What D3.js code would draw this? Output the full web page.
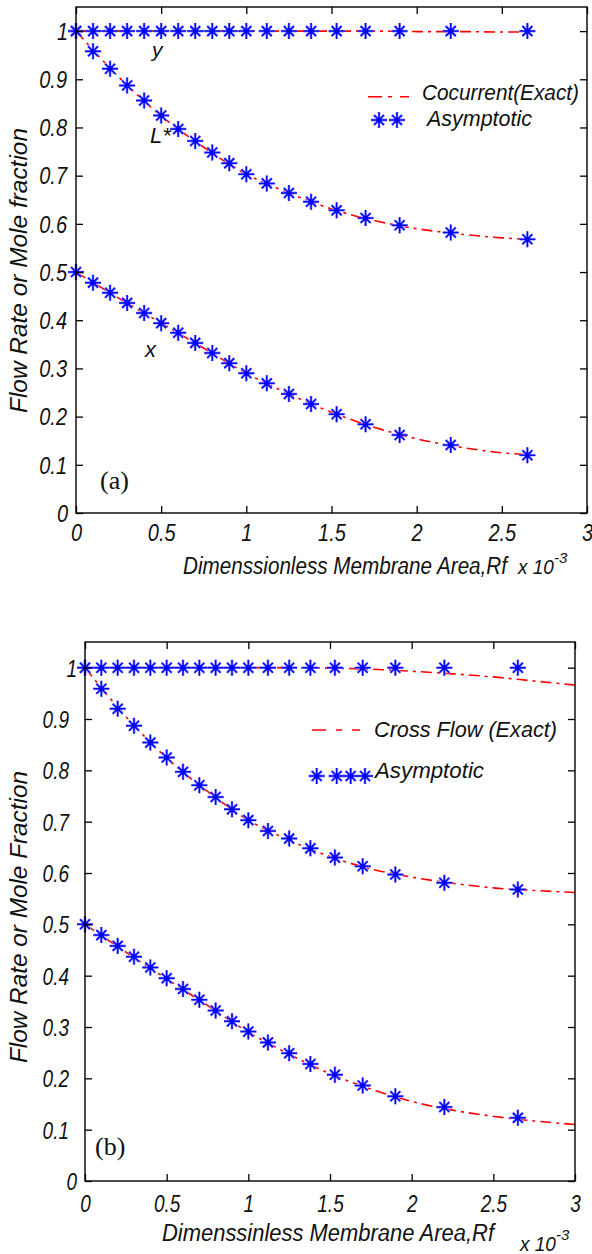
<!DOCTYPE html>
<html><head><meta charset="utf-8">
<script src="https://cdn.jsdelivr.net/npm/d3@7"></script>
<style>
html,body{margin:0;padding:0;background:#fff;}
svg{display:block;}
.mt{font-family:"Liberation Sans",Arial,sans-serif;font-style:italic;fill:#111;}
.stretch{transform-box:fill-box;transform-origin:center;}
</style></head><body>
<svg id="c" width="592" height="1254"></svg>
<script>
// ---- data ----
const rfPoints = [0,0.1,0.2,0.3,0.4,0.5,0.6,0.7,0.8,0.9,1.0,1.12,1.25,1.38,1.53,1.70,1.90,2.20,2.65];
// panel (a) asymptotic
const yAsymA = [1,1,1,1,1,1,1,1,1,1,1,1,1,1,1,1,1,1,1];
const LAsymA = [1.0,0.958,0.922,0.887,0.856,0.825,0.797,0.772,0.748,0.726,0.703,0.684,0.664,0.646,0.628,0.612,0.597,0.582,0.568];
const xAsymA = [0.5,0.478,0.457,0.436,0.415,0.394,0.374,0.353,0.332,0.311,0.29,0.269,0.247,0.226,0.205,0.184,0.162,0.141,0.12];
// panel (a) exact (cocurrent)
const rfExactA = [0,0.25,0.5,0.75,1.0,1.25,1.5,1.75,2.0,2.25,2.5,2.65];
const yExactA = [1,1,1,1,1,1,1,1,0.999,0.999,0.998,0.998];
const LExactA = [1.0,0.905,0.824,0.759,0.703,0.664,0.631,0.607,0.590,0.579,0.571,0.568];
const xExactA = [0.5,0.446,0.394,0.342,0.29,0.247,0.209,0.178,0.154,0.137,0.125,0.121];
// panel (b) asymptotic
const yAsymB = [1,1,1,1,1,1,1,1,1,1,1,1,1,1,1,1,1,1,1];
const LAsymB = [1.0,0.959,0.920,0.887,0.854,0.825,0.797,0.771,0.748,0.724,0.703,0.682,0.667,0.648,0.630,0.613,0.597,0.581,0.568];
const xAsymB = [0.5,0.479,0.458,0.437,0.416,0.395,0.374,0.353,0.332,0.311,0.291,0.27,0.249,0.228,0.207,0.186,0.165,0.144,0.123];
// panel (b) exact (cross flow)
const rfExactB = [0,0.25,0.5,0.75,1.0,1.25,1.5,1.75,2.0,2.25,2.5,2.75,3.0];
const yExactB = [1,1,1,1,1,1,0.999,0.997,0.993,0.988,0.982,0.974,0.966];
const LExactB = [1.0,0.905,0.824,0.759,0.703,0.664,0.632,0.608,0.592,0.580,0.571,0.566,0.562];
const xExactB = [0.5,0.446,0.394,0.342,0.29,0.247,0.209,0.179,0.155,0.138,0.126,0.117,0.110];
// ticks
const xTicks = [0,0.5,1,1.5,2,2.5,3];
const xTickLabels = ["0","0.5","1","1.5","2","2.5","3"];
const yTicks = [0,0.1,0.2,0.3,0.4,0.5,0.6,0.7,0.8,0.9,1];
const yTickLabels = ["0","0.1","0.2","0.3","0.4","0.5","0.6","0.7","0.8","0.9","1"];

const svg = d3.select("#c");
const BLUE = "#0000ff", RED = "#ff0000";
const starPath = "M-8,0H8M0,-8V8M-5,-5L5,5M-5,5L5,-5";

function star(g, x, y) {
  const s = g.append("g").attr("transform", `translate(${x},${y})`);
  s.append("path").attr("d", starPath).attr("stroke", "#a8a8ff").attr("stroke-width", 2.8).attr("fill", "none");
  s.append("path").attr("d", starPath).attr("stroke", BLUE).attr("stroke-width", 1.5).attr("fill", "none");
  s.append("circle").attr("r", 2.6).attr("fill", BLUE);
}

function mtext(g, x, y, str, size, opts = {}) {
  let parent = g, tx = x, ty = y;
  if (opts.rotate) {
    parent = g.append("g").attr("transform", `translate(${x},${y}) rotate(-90)`);
    tx = 0; ty = 0;
  }
  const t = parent.append("text").attr("class", opts.sy ? "mt stretch" : "mt").attr("x", tx).attr("y", ty)
    .attr("font-size", size).text(str);
  if (opts.anchor) t.attr("text-anchor", opts.anchor);
  if (opts.len) t.attr("textLength", opts.len).attr("lengthAdjust", "spacingAndGlyphs");
  if (opts.sy) t.style("transform", `scaleY(${opts.sy})`);
  if (opts.serif) t.style("font-family", '"Liberation Serif","Times New Roman",serif').style("font-style", "normal");
  return t;
}

function panel(cfg) {
  const x = d3.scaleLinear().domain([0, 3]).range([cfg.left, cfg.right]);
  const y = d3.scaleLinear().domain([0, 1.05]).range([cfg.bottom, cfg.top]);
  const g = svg.append("g");

  // exact curves
  const line = d3.line().x(d => x(d[0])).y(d => y(d[1])).curve(d3.curveMonotoneX);
  cfg.exact.forEach(arr => {
    g.append("path").datum(cfg.rfExact.map((r, i) => [r, arr[i]]))
      .attr("d", line).attr("fill", "none").attr("stroke", RED)
      .attr("stroke-width", 1.6).attr("stroke-dasharray", "11,5,3,5");
  });
  // asymptotic markers
  cfg.asym.forEach(arr => {
    rfPoints.forEach((r, i) => star(g, x(r), y(arr[i])));
  });

  // axes
  const tl = 7;
  const bAx = g.append("g").attr("transform", `translate(0,${cfg.bottom})`)
    .call(d3.axisBottom(x).tickValues(xTicks).tickFormat((d, i) => xTickLabels[i]).tickSizeInner(-tl).tickSizeOuter(0));
  bAx.selectAll("text").attr("class", "mt stretch").attr("font-size", cfg.tickFont)
    .attr("y", cfg.xLabOff).attr("dy", null).style("transform", `scaleY(${cfg.tickSY})`);
  const tAx = g.append("g").attr("transform", `translate(0,${cfg.top})`)
    .call(d3.axisTop(x).tickValues(xTicks).tickFormat("").tickSizeInner(-tl).tickSizeOuter(0));
  const lAx = g.append("g").attr("transform", `translate(${cfg.left},0)`)
    .call(d3.axisLeft(y).tickValues(yTicks).tickFormat((d, i) => yTickLabels[i]).tickSizeInner(-tl).tickSizeOuter(0));
  lAx.selectAll("text").attr("class", "mt stretch").attr("font-size", cfg.tickFont)
    .attr("x", (d) => (d === 0 || d === 1) ? -cfg.yLabOff1 : -cfg.yLabOff).attr("dy", "0.36em")
    .style("transform", `scaleY(${cfg.tickSY})`);
  const rAx = g.append("g").attr("transform", `translate(${cfg.right},0)`)
    .call(d3.axisRight(y).tickValues(yTicks).tickFormat("").tickSizeInner(-tl).tickSizeOuter(0));
  [bAx, tAx, lAx, rAx].forEach(a => {
    a.select(".domain").remove();
    a.selectAll("line").attr("stroke", "#000").attr("stroke-width", 1.3);
    a.attr("font-family", null);
  });
  g.append("rect").attr("x", cfg.left).attr("y", cfg.top)
    .attr("width", cfg.right - cfg.left).attr("height", cfg.bottom - cfg.top)
    .attr("fill", "none").attr("stroke", "#000").attr("stroke-width", 1.4);
  return { g, x, y };
}

// ---- panel (a) ----
const A = panel({
  left: 76, right: 587, top: 7, bottom: 513,
  rfExact: rfExactA, exact: [yExactA, LExactA, xExactA], asym: [yAsymA, LAsymA, xAsymA],
  tickFont: 20, tickSY: 1.15, xLabOff: 27, yLabOff: 9, yLabOff1: 8
});
mtext(A.g, 183, 573, "Dimenssionless Membrane Area,Rf", 21, { len: 324, sy: 1.12 });
mtext(A.g, 518, 573, "x 10", 19, { sy: 1.1 });
mtext(A.g, 554, 563, "-3", 15, {});
mtext(A.g, 27, 413, "Flow Rate or Mole fraction", 23, { len: 285, rotate: true });
mtext(A.g, 100, 489, "(a)", 26, { serif: true });
mtext(A.g, 152, 57, "y", 21, {});
mtext(A.g, 150, 143, "L*", 22, {});
mtext(A.g, 145, 357, "x", 22, {});
// legend (a)
A.g.append("line").attr("x1", 368).attr("x2", 409).attr("y1", 96.7).attr("y2", 96.7)
  .attr("stroke", RED).attr("stroke-width", 1.6).attr("stroke-dasharray", "14,6,4,8");
mtext(A.g, 422, 100, "Cocurrent(Exact)", 22, { len: 157 });
star(A.g, 379, 120); star(A.g, 397, 120);
mtext(A.g, 427, 126, "Asymptotic", 22, { len: 105 });

// ---- panel (b) ----
const B = panel({
  left: 85, right: 575, top: 642, bottom: 1181,
  rfExact: rfExactB, exact: [yExactB, LExactB, xExactB], asym: [yAsymB, LAsymB, xAsymB],
  tickFont: 19, tickSY: 1.25, xLabOff: 29, yLabOff: 16, yLabOff1: 8
});
mtext(B.g, 162, 1240, "Dimenssinless Membrane Area,Rf", 21, { len: 332, sy: 1.12 });
mtext(B.g, 520, 1250, "x 10", 19, { sy: 1.1 });
mtext(B.g, 556, 1240, "-3", 15, {});
mtext(B.g, 27, 1063, "Flow Rate or Mole Fraction", 23, { len: 292, rotate: true });
mtext(B.g, 95, 1155, "(b)", 26, { serif: true });
// legend (b)
B.g.append("line").attr("x1", 312).attr("x2", 360).attr("y1", 730).attr("y2", 730)
  .attr("stroke", RED).attr("stroke-width", 1.6).attr("stroke-dasharray", "14,10,6,10");
mtext(B.g, 374, 737, "Cross Flow (Exact)", 22, { len: 183 });
[316.7, 336.7, 350.7, 365].forEach(px => star(B.g, px, 776));
mtext(B.g, 375, 778, "Asymptotic", 22, { len: 109 });
</script>
</body></html>
